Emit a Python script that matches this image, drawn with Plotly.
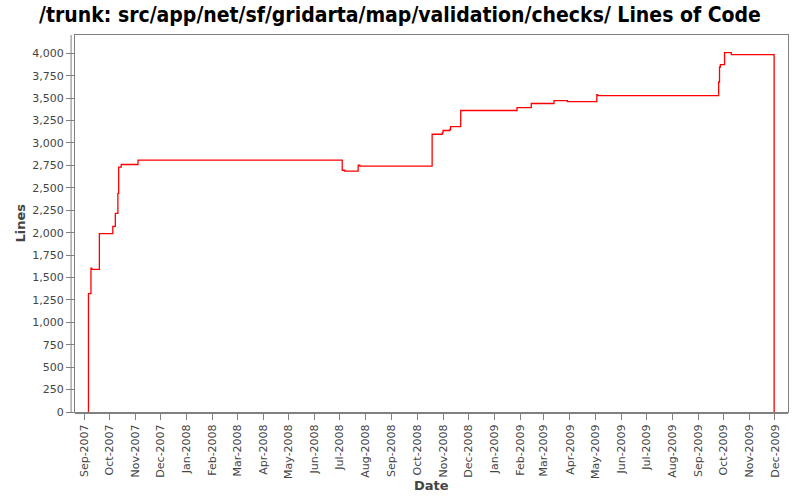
import plotly.graph_objects as go

dates = ["2007-09-06", "2007-09-06", "2007-09-09", "2007-09-10", "2007-09-19",
         "2007-10-05", "2007-10-08", "2007-10-11", "2007-10-12", "2007-10-15",
         "2007-11-04", "2008-07-04", "2008-07-07", "2008-07-23", "2008-07-25",
         "2008-10-19", "2008-10-31", "2008-11-01", "2008-11-09", "2008-11-10",
         "2008-11-22", "2009-01-28", "2009-02-14", "2009-03-13", "2009-03-29",
         "2009-05-03", "2009-05-04", "2009-09-25", "2009-09-26", "2009-09-27",
         "2009-10-02", "2009-10-10", "2009-11-30"]
lines = [0, 1320, 1605, 1590, 1990,
         2070, 2215, 2437, 2730, 2760,
         2808, 2696, 2685, 2752, 2741,
         3097, 3112, 3139, 3150, 3183,
         3362, 3395, 3440, 3473, 3462,
         3540, 3529, 3680, 3847, 3874,
         4008, 3985, 0]

title_text = "/trunk: src/app/net/sf/gridarta/map/validation/checks/ Lines of Code"
x_title = "Date"
y_title = "Lines"

gray = "#808080"
txt = "#444444"

fig = go.Figure()
fig.add_trace(go.Scatter(x=dates, y=lines, mode="lines", line=dict(shape="hv", color="#ff0000", width=1.3),
                         hoverinfo="skip", showlegend=False))

fig.update_layout(
    width=800, height=500,
    margin=dict(l=75, r=12, t=35, b=88),
    paper_bgcolor="white", plot_bgcolor="white",
    title=dict(text="<b>" + title_text + "</b>", x=0.5, xanchor="center", y=0.97, yanchor="middle",
               font=dict(family="DejaVu Sans Condensed, DejaVu Sans", size=21, color="#000000")),
    xaxis=dict(type="date", range=["2007-08-21", "2009-12-16 12:00"], tick0="2007-09-01", dtick="M1",
               tickformat="%b-%Y", tickangle=-90, ticks="outside", ticklen=7, tickcolor=gray,
               tickfont=dict(family="DejaVu Sans", size=11, color=txt), showgrid=False, zeroline=False,
               showline=True, linecolor=gray, linewidth=1, mirror=True, automargin=False),
    yaxis=dict(range=[0, 4204], dtick=250, tickformat=",", ticks="outside", ticklen=8, tickcolor=gray,
               tickfont=dict(family="DejaVu Sans", size=11, color=txt), showgrid=False, zeroline=False,
               showline=True, linecolor=gray, linewidth=1, mirror=True, automargin=False),
)

fig.add_annotation(text="<b>" + x_title + "</b>", xref="paper", yref="paper", x=0.5, y=-0.195,
                   xanchor="center", yanchor="middle", showarrow=False,
                   font=dict(family="DejaVu Sans", size=13, color=txt))
fig.add_annotation(text="<b>" + y_title + "</b>", xref="paper", yref="paper", x=-0.077, y=0.5,
                   xanchor="center", yanchor="middle", showarrow=False, textangle=-90,
                   font=dict(family="DejaVu Sans", size=13, color=txt))

# offset axis lines (JFreeChart style)
fig.add_shape(type="line", xref="paper", yref="paper", x0=-0.0055, x1=-0.0055, y0=0, y1=1,
              line=dict(color=gray, width=1))
fig.add_shape(type="line", xref="paper", yref="paper", x0=0, x1=1, y0=-0.004, y1=-0.004,
              line=dict(color=gray, width=1))

fig.write_html("out.html")
